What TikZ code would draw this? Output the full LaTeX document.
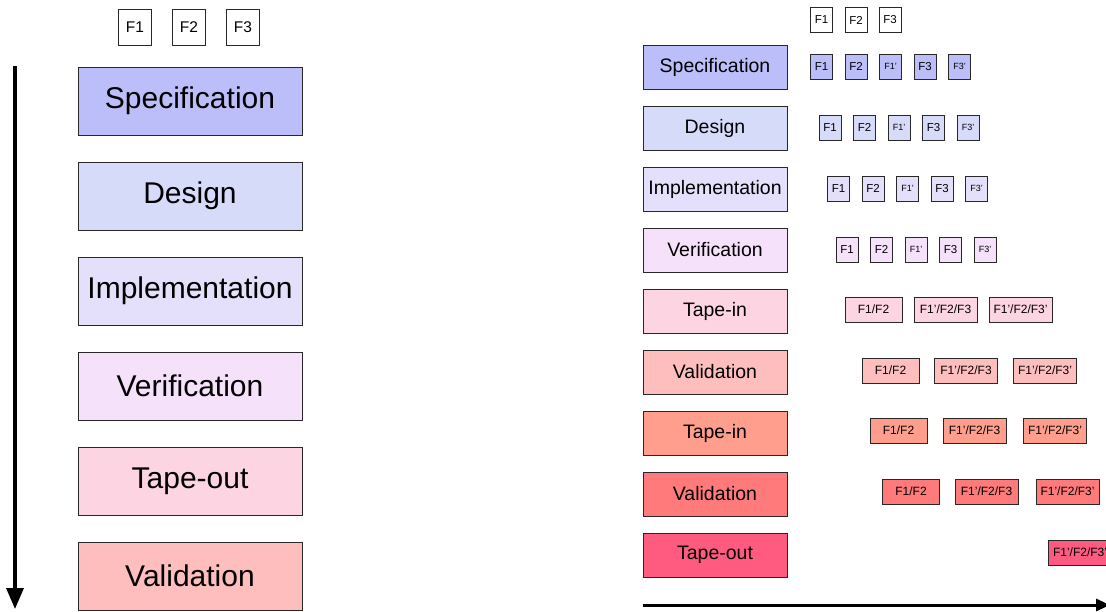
\documentclass[tikz,border=0pt]{standalone}
\usepackage{fontspec}
\setmainfont{Liberation Sans}
\usetikzlibrary{arrows.meta}
\definecolor{cSpec}{RGB}{188,190,250}
\definecolor{cDes}{RGB}{215,219,250}
\definecolor{cImp}{RGB}{228,223,250}
\definecolor{cVer}{RGB}{245,225,250}
\definecolor{cTape}{RGB}{253,212,226}
\definecolor{cVal}{RGB}{255,190,190}
\definecolor{cTapeB}{RGB}{255,158,140}
\definecolor{cValB}{RGB}{255,122,122}
\definecolor{cOut}{RGB}{255,90,128}
\definecolor{edge}{RGB}{40,40,40}
\tikzset{
  bigbox/.style={draw=edge, line width=0.8pt, inner sep=0pt, minimum width=224pt, minimum height=68pt, font=\fontsize{30}{32}\selectfont},
  bigf/.style={draw=edge, line width=0.8pt, inner sep=0pt, minimum width=33pt, minimum height=36pt, fill=white, font=\fontsize{15.5}{17}\selectfont},
  lblbox/.style={draw=edge, line width=0.8pt, inner sep=0pt, minimum width=144pt, minimum height=44pt, font=\fontsize{19.5}{21}\selectfont},
  fbox/.style={draw=edge, line width=0.8pt, inner sep=0pt, minimum width=22pt, minimum height=25pt, font=\fontsize{11.5}{12}\selectfont},
  fpbox/.style={fbox, font=\fontsize{9}{10}\selectfont},
  wbox/.style={draw=edge, line width=0.8pt, inner sep=0pt, minimum width=57pt, minimum height=25pt, font=\fontsize{12}{13}\selectfont},
  wwbox/.style={wbox, minimum width=63pt},
  axis/.style={line width=3.4pt, -{Triangle[length=21pt,width=17pt]}},
  axisr/.style={line width=3pt, -{Triangle[length=14pt,width=12pt]}}
}
\begin{document}
\begin{tikzpicture}[x=1pt,y=-1pt]
\useasboundingbox (0,0) rectangle (1106,611);
% ---------- left ----------
\node[bigf] (lf1) at (135,27) {F1};
\node[bigf] (lf2) at (189,27) {F2};
\node[bigf] (lf3) at (243,27) {F3};
\node[bigbox, fill=cSpec] (lspec) at (190,101) {Specification};
\node[bigbox, fill=cDes]  (ldes)  at (190,196) {Design};
\node[bigbox, fill=cImp]  (limp)  at (190,291) {Implementation};
\node[bigbox, fill=cVer]  (lver)  at (190,386) {Verification};
\node[bigbox, fill=cTape] (ltape) at (190,481) {Tape-out};
\node[bigbox, fill=cVal]  (lval)  at (190,576) {Validation};
\coordinate (la) at (15,66);
\coordinate (lb) at (15,609);
\draw[axis] (la) -- (lb);
% ---------- right ----------
\node[fbox, fill=white] (tf1) at (821.5,20) {F1};
\node[fbox, fill=white] (tf2) at (856,20) {F2};
\node[fbox, fill=white] (tf3) at (890,20) {F3};
\node[lblbox, fill=cSpec]  (r1) at (715,67)  {Specification};
\node[lblbox, fill=cDes]   (r2) at (715,128) {Design};
\node[lblbox, fill=cImp]   (r3) at (715,189) {Implementation};
\node[lblbox, fill=cVer]   (r4) at (715,250) {Verification};
\node[lblbox, fill=cTape]  (r5) at (715,311) {Tape-in};
\node[lblbox, fill=cVal]   (r6) at (715,372) {Validation};
\node[lblbox, fill=cTapeB] (r7) at (715,433) {Tape-in};
\node[lblbox, fill=cValB]  (r8) at (715,494) {Validation};
\node[lblbox, fill=cOut]   (r9) at (715,555) {Tape-out};
% rows 1-4
\foreach \k/\c in {0/cSpec,1/cDes,2/cImp,3/cVer}{
  \pgfmathsetmacro{\xo}{821.5+8.5*\k}
  \pgfmathsetmacro{\yo}{66.5+61*\k}
  \node[fbox, fill=\c]  (s\k a) at (\xo,\yo) {F1};
  \node[fbox, fill=\c]  (s\k b) at (\xo+34.5,\yo) {F2};
  \node[fpbox, fill=\c] (s\k c) at (\xo+69,\yo) {F1'};
  \node[fbox, fill=\c]  (s\k d) at (\xo+103.5,\yo) {F3};
  \node[fpbox, fill=\c] (s\k e) at (\xo+138,\yo) {F3'};
}
% rows 5-9
\node[wbox, fill=cTape]  (t5a) at (873.5,309.5) {F1/F2};
\node[wwbox, fill=cTape] (t5b) at (945.5,309.5) {F1'/F2/F3};
\node[wwbox, fill=cTape] (t5c) at (1020.5,309.5) {F1'/F2/F3'};
\node[wbox, fill=cVal]   (t6a) at (890.5,370.5) {F1/F2};
\node[wwbox, fill=cVal]  (t6b) at (966,370.5) {F1'/F2/F3};
\node[wwbox, fill=cVal]  (t6c) at (1045,370.5) {F1'/F2/F3'};
\node[wbox, fill=cTapeB]  (t7a) at (898.5,430.5) {F1/F2};
\node[wwbox, fill=cTapeB] (t7b) at (974.5,430.5) {F1'/F2/F3};
\node[wwbox, fill=cTapeB] (t7c) at (1055,430.5) {F1'/F2/F3'};
\node[wbox, fill=cValB]  (t8a) at (911,491.5) {F1/F2};
\node[wwbox, fill=cValB] (t8b) at (986.5,491.5) {F1'/F2/F3};
\node[wwbox, fill=cValB] (t8c) at (1067.5,491.5) {F1'/F2/F3'};
\node[wwbox, fill=cOut] (t9c) at (1080,552.5) {F1'/F2/F3'};
\coordinate (ra) at (643,605);
\coordinate (rb) at (1110,605);
\draw[axisr] (ra) -- (rb);
\end{tikzpicture}
\end{document}
